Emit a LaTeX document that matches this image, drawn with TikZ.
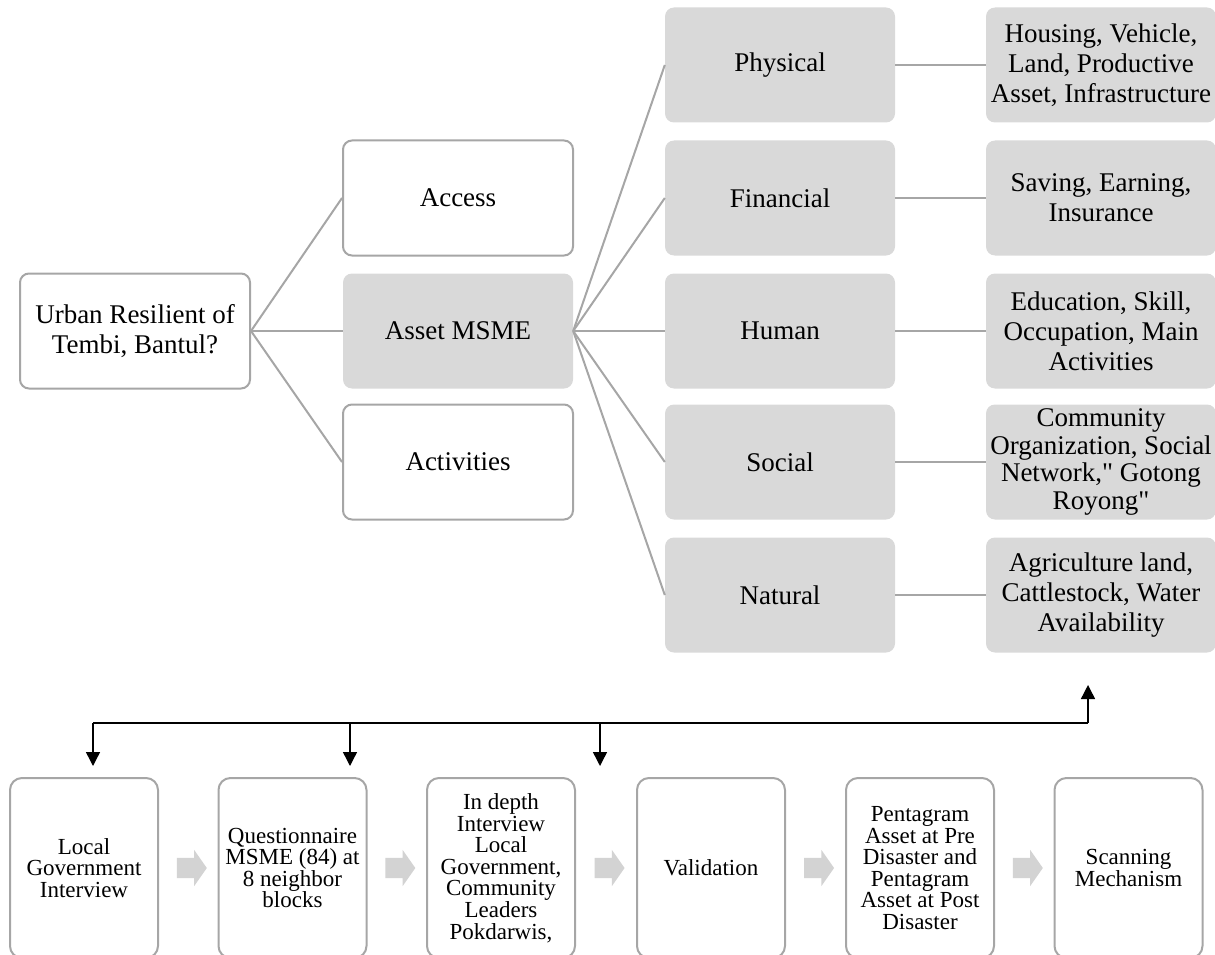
\documentclass[tikz,border=0pt]{standalone}
\usepackage{fontspec}
\setmainfont{Liberation Serif}
\font\plainq="Liberation Serif" at 27pt
\usetikzlibrary{shapes.arrows,arrows.meta,calc}
\definecolor{bordergray}{HTML}{A6A6A6}
\definecolor{boxgray}{HTML}{D9D9D9}
\definecolor{linegray}{HTML}{A6A6A6}
\definecolor{arrowgray}{HTML}{D3D3D3}
\begin{document}
\begin{tikzpicture}[x=1pt,y=-1pt,
 box/.style={rounded corners=9pt, minimum width=230pt, minimum height=115pt, align=center, font=\fontsize{27}{30}\selectfont, inner sep=1pt},
 wbox/.style={box, draw=bordergray, line width=2pt, fill=white},
 gbox/.style={box, fill=boxgray},
 conn/.style={draw=linegray, line width=2pt},
 sbox/.style={rounded corners=12pt, draw=bordergray, line width=2pt, minimum width=148pt, minimum height=180pt, align=center, font=\fontsize{23}{21.6}\selectfont, inner sep=1pt},
 flow/.style={single arrow, fill=arrowgray, draw=none, single arrow head extend=8pt, minimum height=30pt, inner sep=0pt, single arrow tip angle=110},
 blk/.style={line width=1.4pt, -{Triangle[length=14pt,width=14pt]}}
]
\useasboundingbox (0,0) rectangle (1215,955);
% top tree
\node[wbox] (root) at (135,331) {Urban Resilient of\\Tembi, Bantul?};
\node[wbox] (access) at (458,198) {Access};
\node[gbox] (asset) at (458,331) {Asset MSME};
\node[wbox] (activ) at (458,462) {Activities};
\node[gbox] (phys) at (780,65) {Physical};
\node[gbox] (fin) at (780,198) {Financial};
\node[gbox] (hum) at (780,331) {Human};
\node[gbox] (soc) at (780,462) {Social};
\node[gbox] (nat) at (780,595) {Natural};
\node[gbox] (physd) at (1101,65) {Housing, Vehicle,\\Land, Productive\\Asset, Infrastructure};
\node[gbox] (find) at (1101,198) {Saving, Earning,\\Insurance};
\node[gbox] (humd) at (1101,331) {Education, Skill,\\Occupation, Main\\Activities};
\node[gbox, font=\fontsize{27}{27.5}\selectfont] (socd) at (1101,462) {Community\\Organization, Social\\Network,{\plainq"} Gotong\\Royong{\plainq"}};
\node[gbox] (natd) at (1101,595) {Agriculture land,\\Cattlestock, Water\\Availability};
\foreach \t in {access,asset,activ} \draw[conn] (root.east) -- (\t.west);
\foreach \t in {phys,fin,hum,soc,nat} \draw[conn] (asset.east) -- (\t.west);
\draw[conn] (phys.east) -- (physd.west);
\draw[conn] (fin.east) -- (find.west);
\draw[conn] (hum.east) -- (humd.west);
\draw[conn] (soc.east) -- (socd.west);
\draw[conn] (nat.east) -- (natd.west);
% bottom flow
\node[sbox] (b1) at (84,868) {Local\\Government\\Interview};
\node[sbox] (b2) at (292.5,868) {Questionnaire\\MSME (84) at\\8 neighbor\\blocks};
\node[sbox] (b3) at (501,868) {In depth\\Interview\\Local\\Government,\\Community\\Leaders\\Pokdarwis,};
\node[sbox] (b4) at (711,868) {Validation};
\node[sbox] (b5) at (920,868) {Pentagram\\Asset at Pre\\Disaster and\\Pentagram\\Asset at Post\\Disaster};
\node[sbox] (b6) at (1128.5,868) {Scanning\\Mechanism};
\node[flow] (f1) at ($(b1.east)!0.5!(b2.west)$) {\rule[-10pt]{0pt}{20pt}};
\node[flow] (f2) at ($(b2.east)!0.5!(b3.west)$) {\rule[-10pt]{0pt}{20pt}};
\node[flow] (f3) at ($(b3.east)!0.5!(b4.west)$) {\rule[-10pt]{0pt}{20pt}};
\node[flow] (f4) at ($(b4.east)!0.5!(b5.west)$) {\rule[-10pt]{0pt}{20pt}};
\node[flow] (f5) at ($(b5.east)!0.5!(b6.west)$) {\rule[-10pt]{0pt}{20pt}};
% black arrows
\coordinate (j1) at (93,723);
\coordinate (j2) at (350,723);
\coordinate (j3) at (600,723);
\coordinate (j4) at (1088,723);
\coordinate (e1) at (93,766);
\coordinate (e2) at (350,766);
\coordinate (e3) at (600,766);
\coordinate (e4) at (1088,685);
\draw[line width=1.4pt] (j1) -- (j4);
\draw[blk] (j1) -- (e1);
\draw[blk] (j2) -- (e2);
\draw[blk] (j3) -- (e3);
\draw[blk] (j4) -- (e4);
\end{tikzpicture}
\end{document}
